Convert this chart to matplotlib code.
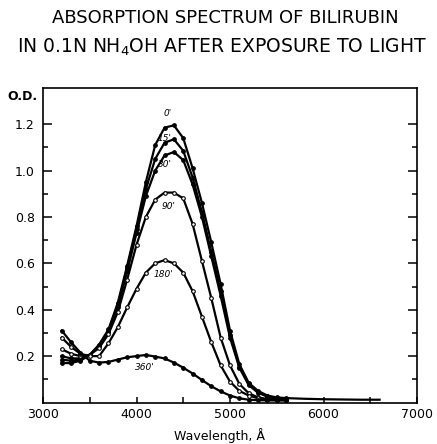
import matplotlib
matplotlib.use("Agg")
import matplotlib.pyplot as plt
import matplotlib.ticker as ticker

# wavelength grid (Angstrom)
wavelength = [3200, 3300, 3400, 3500, 3600, 3700, 3800, 3900, 4000, 4100,
              4200, 4300, 4400, 4500, 4600, 4700, 4800, 4900, 5000, 5100,
              5200, 5300, 5400, 5500, 5600]
tail_wavelength = [5800, 6000, 6200, 6400, 6600]

# optical density after 0, 15, 30, 90, 180, 360 minutes of light
od_0 = [0.17, 0.17, 0.18, 0.205, 0.25, 0.315, 0.43, 0.59, 0.76, 0.95,
        1.11, 1.185, 1.195, 1.14, 1.01, 0.86, 0.69, 0.51, 0.31, 0.165,
        0.085, 0.05, 0.03, 0.022, 0.019]
od_0_tail = [0.016, 0.014, 0.013, 0.012, 0.012]
od_15 = [0.185, 0.18, 0.185, 0.205, 0.245, 0.31, 0.42, 0.58, 0.75, 0.92,
         1.05, 1.12, 1.135, 1.085, 0.97, 0.82, 0.65, 0.48, 0.29, 0.155,
         0.08, 0.045, 0.027, 0.02, 0.017]
od_30 = [0.20, 0.19, 0.19, 0.205, 0.245, 0.305, 0.41, 0.565, 0.73, 0.89,
         1.00, 1.065, 1.08, 1.045, 0.94, 0.80, 0.63, 0.46, 0.28, 0.15,
         0.075, 0.042, 0.025, 0.018, 0.015]
od_90 = [0.23, 0.21, 0.20, 0.205, 0.235, 0.295, 0.39, 0.53, 0.68, 0.80,
         0.875, 0.905, 0.905, 0.88, 0.77, 0.61, 0.45, 0.28, 0.16, 0.08,
         0.04, 0.022, 0.015, 0.012, 0.011]
od_180 = [0.28, 0.24, 0.21, 0.20, 0.20, 0.255, 0.325, 0.41, 0.49, 0.56,
          0.60, 0.614, 0.60, 0.56, 0.48, 0.37, 0.26, 0.16, 0.09, 0.05,
          0.03, 0.018, 0.012, 0.01, 0.01]
od_360 = [0.31, 0.26, 0.215, 0.18, 0.172, 0.175, 0.185, 0.195, 0.20, 0.205,
          0.198, 0.19, 0.172, 0.15, 0.125, 0.097, 0.07, 0.048, 0.03, 0.018,
          0.012, 0.01, 0.009, 0.009, 0.009]

curve_labels = ["0'", "15'", "30'", "90'", "180'", "360'"]
label_x = [4330, 4300, 4300, 4340, 4290, 4090]
label_y = [1.245, 1.14, 1.025, 0.845, 0.55, 0.15]

x_ticks = [3000, 4000, 5000, 6000, 7000]
y_ticks = [0.2, 0.4, 0.6, 0.8, 1.0, 1.2]
y_tick_labels = ["0.2", "0.4", "0.6", "0.8", "1.0", "1.2"]
y_minor_ticks = [0.1, 0.3, 0.5, 0.7, 0.9, 1.1]


def plot_spectrum(output_path):
    fig = plt.figure(figsize=(4.37, 4.44), dpi=100)
    ax = fig.add_axes([43 / 437, 41.5 / 444, 374 / 437, 314.5 / 444])

    series = [od_0, od_15, od_30, od_90, od_180, od_360]
    for i, od in enumerate(series):
        face = "white" if i in (3, 4) else "black"
        ax.plot(wavelength, od, color="black", lw=1.6,
                marker="o", ms=2.6, mfc=face, mec="black", mew=0.8)
    ax.plot([wavelength[-1]] + tail_wavelength, [od_0[-1]] + od_0_tail,
            color="black", lw=1.6)

    for lab, lx, ly in zip(curve_labels, label_x, label_y):
        ax.text(lx, ly, lab, fontsize=6.5, style="italic",
                ha="center", va="center")

    ax.set_xlim(3000, 7000)
    ax.set_ylim(0, 1.356)
    ax.xaxis.set_major_locator(ticker.FixedLocator(x_ticks))
    ax.xaxis.set_minor_locator(ticker.MultipleLocator(500))
    ax.set_yticks(y_ticks)
    ax.set_yticklabels(y_tick_labels)
    ax.yaxis.set_minor_locator(ticker.FixedLocator(y_minor_ticks))

    ax.tick_params(axis="y", which="major", direction="in", length=6.5,
                   width=1.1, right=True, labelsize=9, pad=6)
    ax.tick_params(axis="y", which="minor", direction="in", length=3.5,
                   width=1.1, right=True)
    ax.tick_params(axis="x", which="both", direction="in", length=4.5,
                   width=1.1, labelsize=9, pad=4)
    for spine in ax.spines.values():
        spine.set_linewidth(1.2)

    ax.text(-0.056, 1.319, "O.D.", transform=ax.get_yaxis_transform(),
            ha="center", va="center", fontsize=9, fontweight="bold")

    fig.text(0.515, 0.96, "ABSORPTION SPECTRUM OF BILIRUBIN",
             ha="center", va="center", fontsize=13)
    fig.text(0.508, 0.893, r"IN 0.1N NH$_4$OH AFTER EXPOSURE TO LIGHT",
             ha="center", va="center", fontsize=13.5)
    fig.text(0.503, 0.02, "Wavelength, Å", ha="center", va="center",
             fontsize=9)

    fig.savefig(output_path, dpi=100)


if __name__ == "__main__":
    plot_spectrum("out.png")
